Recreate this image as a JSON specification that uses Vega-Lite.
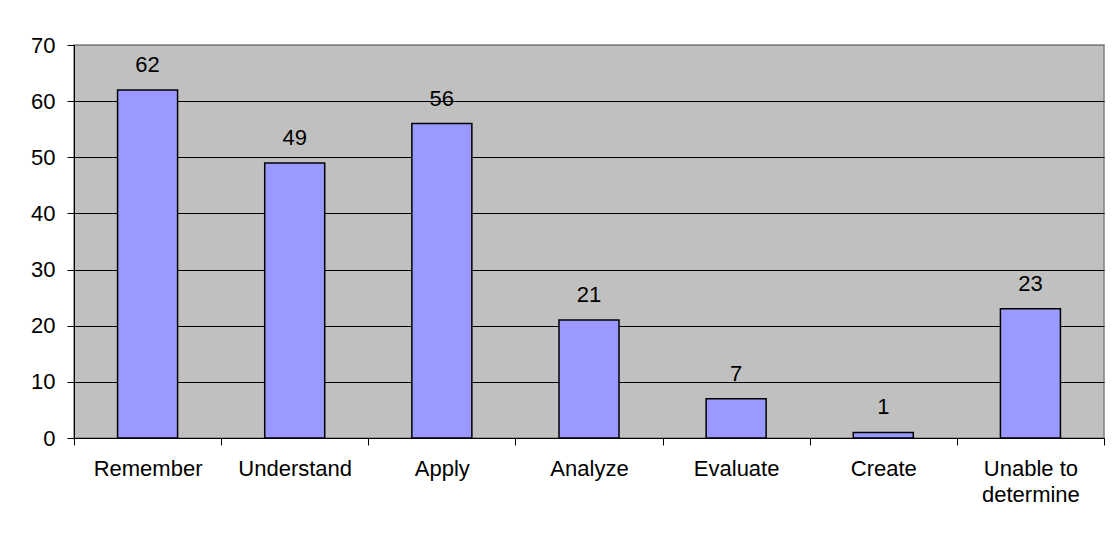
{
  "$schema": "https://vega.github.io/schema/vega-lite/v6.json",
  "width": 1030,
  "height": 393,
  "autosize": {"type": "none"},
  "padding": {"left": 74, "top": 45, "right": 8, "bottom": 104},
  "background": "white",
  "config": {
    "font": "Liberation Sans",
    "view": {"fill": "#C0C0C0", "stroke": "#808080", "strokeWidth": 1.5},
    "axis": {"labelFont": "Liberation Sans", "labelColor": "black", "labelFontSize": 22, "title": null, "domainColor": "black", "tickColor": "black", "tickSize": 7}
  },
  "data": {
    "values": [
      {"category": "Remember", "value": 62},
      {"category": "Understand", "value": 49},
      {"category": "Apply", "value": 56},
      {"category": "Analyze", "value": 21},
      {"category": "Evaluate", "value": 7},
      {"category": "Create", "value": 1},
      {"category": "Unable to determine", "value": 23}
    ]
  },
  "encoding": {
    "x": {
      "field": "category",
      "type": "nominal",
      "sort": null,
      "scale": {"paddingInner": 0, "paddingOuter": 0},
      "axis": {
        "labelAngle": 0,
        "tickBand": "extent",
        "labelPadding": 13,
        "labelLineHeight": 26,
        "labelExpr": "datum.label == 'Unable to determine' ? ['Unable to', 'determine'] : datum.label"
      }
    },
    "y": {
      "field": "value",
      "type": "quantitative",
      "scale": {"domain": [0, 70], "nice": false},
      "axis": {
        "values": [0, 10, 20, 30, 40, 50, 60, 70],
        "grid": true,
        "gridColor": {"condition": {"test": "datum.value == 70", "value": "#808080"}, "value": "black"},
        "gridOpacity": 1,
        "labelPadding": 12
      }
    }
  },
  "layer": [
    {
      "mark": {"type": "bar", "size": 60, "fill": "#9999FF", "stroke": "black", "strokeWidth": 1.5}
    },
    {
      "mark": {"type": "text", "dy": -18, "baseline": "alphabetic", "fontSize": 22, "font": "Liberation Sans", "color": "black"},
      "encoding": {"text": {"field": "value", "type": "quantitative"}}
    }
  ]
}
